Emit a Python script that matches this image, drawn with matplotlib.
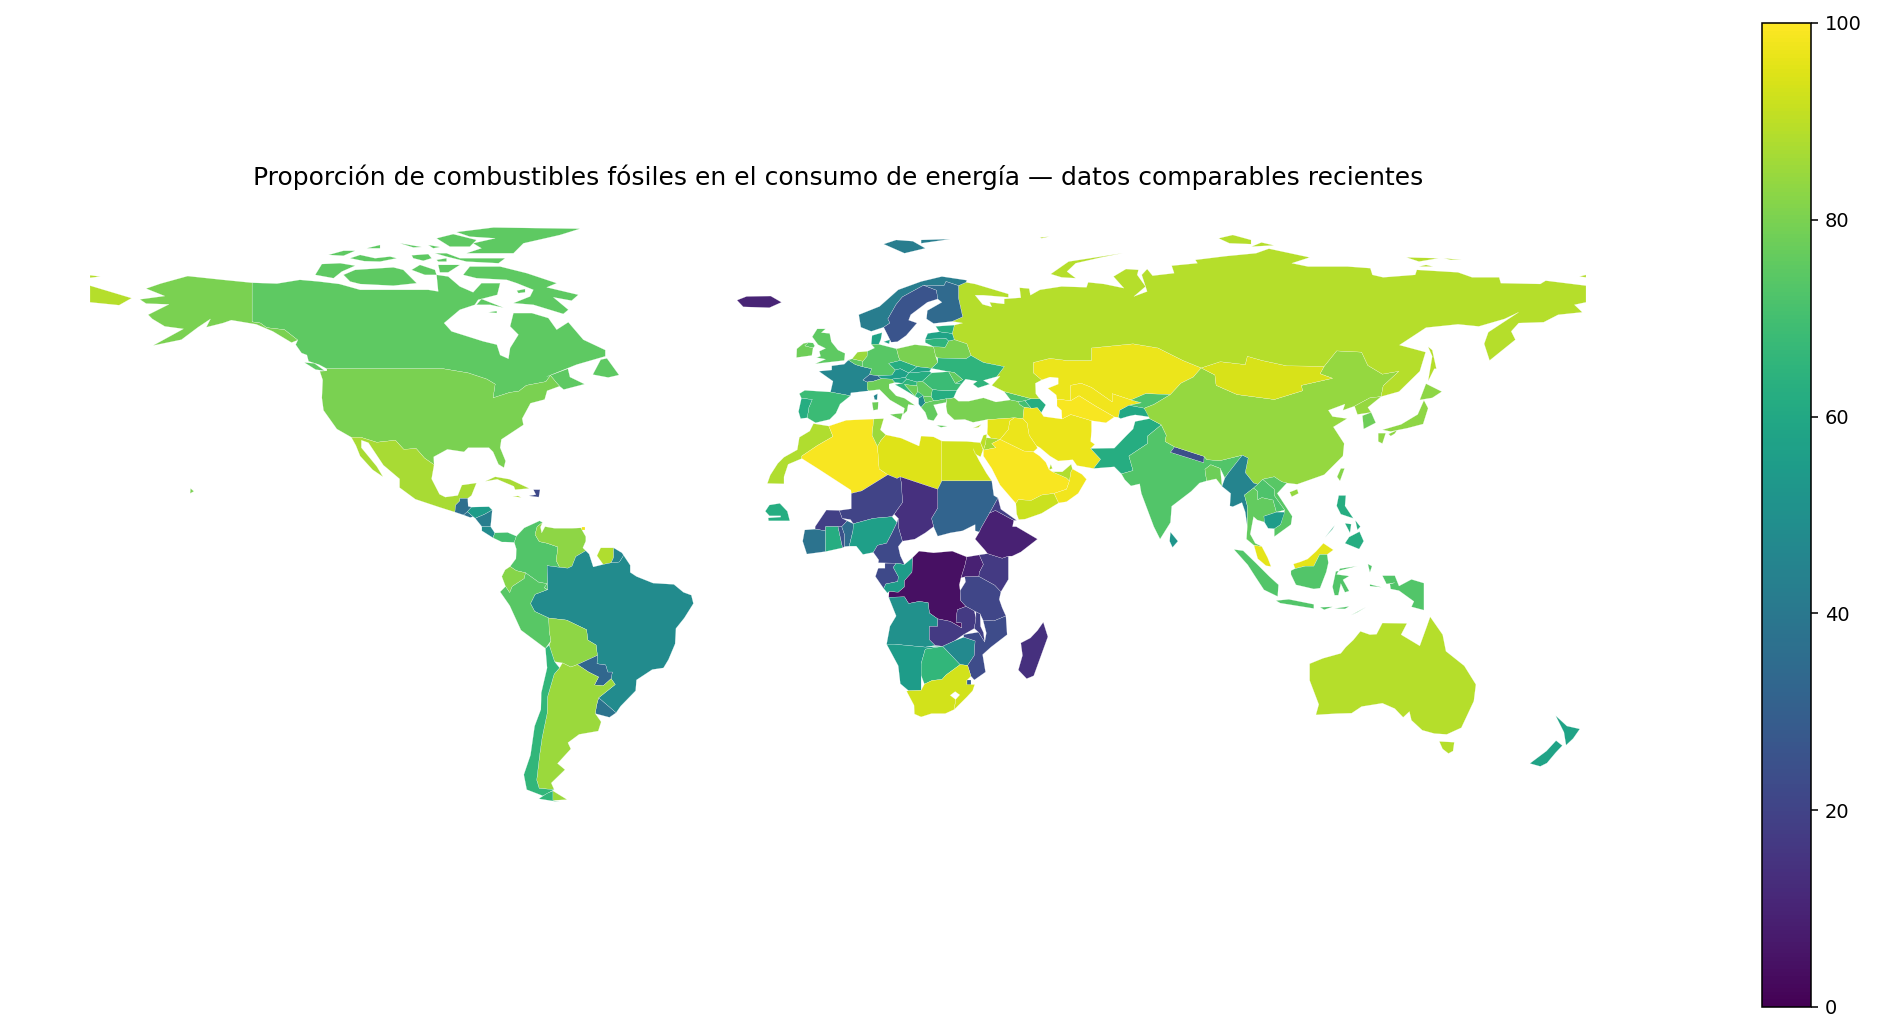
import matplotlib
matplotlib.use("Agg")
import matplotlib.pyplot as plt
from matplotlib.collections import PolyCollection

# Outlines are rough lon/lat traces.
# North America
canada = [(-141,69.7),(-135,69.5),(-129.5,70.4),(-125,70),(-120,69.4),(-115,68),(-108,68),(-101.4,68),(-98.6,68),(-96.2,67.6),(-96.6,71.6),(-93.8,71.2),(-91,68.8),(-87.8,67.4),(-85.8,69.6),(-81.3,69.6),(-82,66.8),(-86.6,65.6),(-87.4,64.4),(-91,63.2),(-94.8,60),(-93,58),(-85.4,55.6),(-82.1,54.8),(-81.3,52.3),(-79.3,51.4),(-78.9,54),(-76.9,57.2),(-78.9,59.2),(-78.1,62.4),(-73.7,62.4),(-69.7,61.2),(-67.7,58.4),(-64.9,60.2),(-61.3,56),(-56,53.5),(-56,52),(-62.9,50),(-70.1,47.1),(-65,49),(-64.5,47),(-61,45.3),(-66,44),(-67,44.8),(-67.8,45.7),(-69.2,47.4),(-70.3,45.9),(-75,45),(-76.8,43.6),(-79,43.3),(-83,42),(-82.5,45.3),(-84.5,46.5),(-89,48),(-95,49),(-123,49),(-124.9,50),(-127.4,50.8),(-127.8,52.3),(-129.1,52.8),(-130.5,54.8),(-130,55.9),(-133.2,58.4),(-137.5,58.9),(-139,60),(-141,60.3)]
vancouver = [(-123.5,48.5),(-125.7,48.8),(-128.4,50.5),(-126,50.3)]
newfoundland = [(-59,47.6),(-55.3,46.9),(-52.7,47.5),(-55.6,51.5),(-57.1,51.2)]
baffin = [(-90.2,71.6),(-88.6,73.6),(-81.3,73.6),(-74.9,72),(-67.7,69.6),(-70.1,68.6),(-62.5,66.8),(-64.1,65.4),(-68.5,66.2),(-64.9,63.2),(-66.1,62.2),(-73.3,64.4),(-78.1,64.8),(-74.1,66.4),(-73.3,68),(-77.3,69.6),(-79.7,70.4),(-87,70.8)]
victoria_is = [(-119,71.6),(-116.2,72.8),(-107,73.4),(-104.6,72.8),(-101.4,69.6),(-107,69),(-115,69.4),(-117.4,70)]
banks_is = [(-125.8,71.6),(-124.2,74.2),(-119.8,74.4),(-116.2,73.8),(-119.4,72.4),(-121.4,70.8)]
melville_is = [(-117.4,75.6),(-115,76.4),(-111.4,75.6),(-107.8,76),(-106.2,75.6),(-110.2,74.8),(-114,74.9)]
patrick_is = [(-122.6,76.4),(-119,77.4),(-116.2,77.4),(-119,76.2)]
mackenzie_is = [(-113.4,78),(-110.2,78.8),(-110.2,78)]
ellef_is = [(-105.4,79.2),(-100.2,78.3),(-102.2,78.2)]
meighen_is = [(-98.6,78.8),(-95.8,78.3),(-97.4,78)]
bathurst_is = [(-102.6,76.3),(-98.6,76.6),(-97.8,75.6),(-99.8,75),(-102.2,75.6)]
pow_is = [(-102.6,72.8),(-100.6,74),(-97,72.8),(-96.6,71.6),(-99.4,71.6)]
somerset_is = [(-96.2,74),(-91,74),(-93.8,72.2),(-95.8,72.2)]
devon_is = [(-97,76.8),(-94.2,76.8),(-91,75.6),(-80.1,75.6),(-81.7,74.4),(-89.4,74.8),(-94.2,76)]
cornwallis_is = [(-96.6,75.2),(-94.2,75.6),(-94.2,74.8),(-96.2,74.8)]
axel_is = [(-96.6,80.4),(-92.6,81.4),(-87,80),(-88.6,78.4),(-93.4,78.4)]
ellesmere = [(-91.8,81.9),(-82.9,83),(-62.1,82.7),(-66.9,81.2),(-75.7,79.2),(-78.1,76.8),(-89.4,76.8),(-85.8,78),(-87.8,79.2),(-82.5,80.4),(-88.6,80.8)]
southampton_is = [(-87,64.4),(-85.8,65.8),(-80.5,63.7),(-83.7,64.4)]
coats_is = [(-84.1,62.6),(-82.1,62.9),(-82.1,62.4)]
charles_is = [(-77.3,67.8),(-75.3,68.2),(-75.3,67.4),(-76.9,67.2)]
usa_lower = [(-123,49),(-95,49),(-89,48),(-84.5,46.5),(-82.5,45.3),(-83,42),(-79,43.3),(-76.8,43.6),(-75,45),(-70.3,45.9),(-69.2,47.4),(-67.8,45.7),(-67,44.8),(-70,43.7),(-70.6,41.6),(-74,40.7),(-76,37),(-75.7,35.5),(-81,32),(-81.3,30),(-80,26.8),(-80.4,25.2),(-81.7,26),(-83,29),(-84,30),(-89,30),(-90,29),(-94,29.6),(-97.3,27.8),(-97.2,25.9),(-99.5,27.5),(-101.5,29.8),(-104.5,29.6),(-106.5,31.8),(-111,31.3),(-114.8,32.5),(-117.1,32.5),(-120.6,34.5),(-123.8,39),(-124.2,42),(-124,46.3),(-124.7,48.4),(-123,48.5)]
alaska = [(-141,69.7),(-141,60.3),(-139,60),(-137.5,58.9),(-133.2,58.4),(-130,55.9),(-131.5,55.3),(-136,58),(-140,59.7),(-146,60.7),(-148,60),(-152,59),(-151,61),(-154,59),(-158,56),(-164.8,54.6),(-157.5,58.6),(-162,59.2),(-165,61),(-166,62),(-161,64.5),(-166.5,64.7),(-168,65.7),(-162,66.5),(-166.5,68.3),(-163,69.5),(-156.5,71.3),(-148,70.4)]
hawaii = [(-155.9,19),(-155,19.5),(-155.8,20.2)]
mexico = [(-117.1,32.5),(-114.8,32.5),(-111,31.3),(-106.5,31.8),(-104.5,29.6),(-101.5,29.8),(-99.5,27.5),(-97.2,25.9),(-97.8,22.5),(-95.9,18.8),(-94.5,18.1),(-91.5,18.5),(-90.5,21),(-87,21.5),(-88.2,18.5),(-89.1,17.8),(-91,17.8),(-91,17.2),(-92,16.2),(-92.2,14.5),(-96,15.7),(-101.7,17.6),(-105.5,20.4),(-105.5,22.5),(-109.4,25.8),(-113,31.2),(-114.7,31.8),(-114.7,30),(-111,25.5),(-109.5,23),(-112,24.7),(-115,28),(-116,30.5)]
guatemala = [(-92.2,14.5),(-92,16.2),(-91,17.2),(-91,17.8),(-89.1,17.8),(-89,15.9),(-88.2,15.7),(-89.2,14.6),(-90.1,13.8)]
el_salvador = [(-90.1,13.8),(-89.2,14.6),(-87.8,13.4),(-88.5,13.2)]
honduras = [(-89.2,14.6),(-88.2,15.7),(-84,15.8),(-83.2,15),(-85,14),(-87.3,13),(-87.8,13.4)]
nicaragua = [(-87.3,13),(-85,14),(-83.2,15),(-83.6,11),(-85.7,11)]
costa_rica = [(-85.7,11),(-83.6,11),(-82.6,9.5),(-83,8.3),(-85.7,10)]
panama = [(-83,8.3),(-82.6,9.5),(-79.5,9.6),(-77.4,8.7),(-77.9,7.2),(-80,7.3),(-80.9,7.3)]
cuba = [(-84.9,21.9),(-82.5,23),(-79,22.4),(-74.3,20.2),(-77.7,19.9),(-78,20.7),(-82,22.4)]
haiti = [(-74.4,18.4),(-72,18.1),(-71.7,19.9),(-73.3,19.9),(-72.7,18.7)]
jamaica = [(-78.3,18.3),(-76.2,18),(-77,18.4)]
trinidad = [(-61.9,10.1),(-60.9,10.1),(-60.9,10.8),(-61.6,10.8)]

# South America
colombia = [(-77.9,7.2),(-77.4,8.7),(-75.5,10.7),(-74.2,11.3),(-71.8,12.4),(-71.1,12),(-72.4,11),(-72.9,9.1),(-71.9,7.4),(-70,7),(-67.4,6.1),(-67.8,2.8),(-67,1.2),(-70,1.6),(-69.8,-4.2),(-70.7,-3.7),(-70,-2.7),(-72,-2.4),(-75.2,-0.1),(-77.4,0.4),(-78.9,1.4),(-77.5,3.3),(-77.4,5.6)]
venezuela = [(-71.1,12),(-71.6,10.9),(-71.3,9.5),(-70.5,11),(-68.2,10.6),(-64,10.6),(-61.9,10.7),(-60.7,8.6),(-60.7,7.5),(-61.4,5.9),(-60.7,5.2),(-63.1,3.8),(-64,1.5),(-65,1),(-67,1.2),(-67.8,2.8),(-67.4,6.1),(-70,7),(-71.9,7.4),(-72.9,9.1),(-72.4,11)]
suriname = [(-58,4),(-57.1,5.9),(-54,5.9),(-54,3.6),(-54.6,2.3),(-56.5,1.9)]
french_guiana = [(-54,5.9),(-52,4.7),(-51.6,4.1),(-52.6,2.5),(-54.6,2.3),(-54,3.6)]
brazil = [(-51.6,4.1),(-50,1.7),(-50,0),(-48.5,-1),(-44.5,-2.6),(-39.5,-2.9),(-37.2,-4.8),(-35.3,-5.5),(-34.8,-7.5),(-37,-11),(-39,-13.5),(-39.2,-17.2),(-40.8,-21),(-42,-23),(-44.7,-23.4),(-48.5,-25.9),(-48.7,-28.5),(-52.3,-32.2),(-53.4,-33.8),(-57.6,-30.2),(-53.6,-27),(-54.6,-25.6),(-54.3,-24),(-55.4,-24),(-55.9,-22.3),(-58,-22),(-57.9,-20),(-58.2,-17.5),(-60.2,-16.3),(-60.5,-13.8),(-65.3,-11.5),(-69.6,-11),(-73,-9.4),(-74,-7.5),(-72.9,-5.3),(-70,-4.2),(-69.8,-4.2),(-70,1.6),(-67,1.2),(-65,1),(-64,1.5),(-63.1,3.8),(-60.7,5.2),(-59.9,4.4),(-58.9,1.3),(-56.5,1.9),(-54.6,2.3),(-52.6,2.5)]
ecuador = [(-75.2,-0.1),(-77.4,0.4),(-78.9,1.4),(-80.1,0.6),(-80.9,-1),(-80,-3.4),(-79,-4.9),(-78.4,-3.4),(-75.5,-1.5)]
peru = [(-80,-3.4),(-81.3,-4.7),(-79,-8),(-76.3,-13.9),(-70.4,-18.3),(-69.1,-16.5),(-69.5,-14),(-69.6,-11),(-73,-9.4),(-74,-7.5),(-72.9,-5.3),(-70,-4.2),(-70.7,-3.7),(-70,-2.7),(-72,-2.4),(-75.2,-0.1),(-75.5,-1.5),(-78.4,-3.4),(-79,-4.9)]
bolivia = [(-69.6,-11),(-65.3,-11.5),(-60.5,-13.8),(-60.2,-16.3),(-58.2,-17.5),(-57.9,-20),(-62.7,-22.2),(-64.3,-22.8),(-66.3,-21.8),(-68.2,-21.5),(-69.5,-17.5),(-69.1,-16.5),(-69.5,-14)]
paraguay = [(-57.9,-20),(-58,-22),(-55.9,-22.3),(-55.4,-24),(-54.3,-24),(-54.6,-25.6),(-56.5,-27.3),(-58.6,-27.1),(-57.6,-25.2),(-60,-24),(-62.7,-22.2)]
uruguay = [(-57.6,-30.2),(-53.4,-33.8),(-55,-34.9),(-58.4,-34),(-58.1,-32)]
argentina = [(-66.3,-21.8),(-64.3,-22.8),(-62.7,-22.2),(-60,-24),(-57.6,-25.2),(-58.6,-27.1),(-56.5,-27.3),(-54.6,-25.6),(-53.6,-27),(-57.6,-30.2),(-58.1,-32),(-58.4,-34),(-57,-36),(-57.7,-38.2),(-62.3,-39),(-65,-41),(-64.3,-42.5),(-67.5,-46),(-65.7,-47.5),(-69,-50.7),(-68.3,-52.3),(-71.9,-52),(-72.5,-50),(-71.8,-44),(-71.2,-39.8),(-70,-34),(-69.9,-30),(-68.3,-24.5),(-67,-23)]
arg_fuego = [(-68.6,-52.6),(-65.2,-54.7),(-68.6,-54.9)]
chile = [(-70.4,-18.3),(-69.5,-17.5),(-68.2,-21.5),(-67,-23),(-68.3,-24.5),(-69.9,-30),(-70,-34),(-71.2,-39.8),(-71.8,-44),(-72.5,-50),(-71.9,-52),(-68.3,-52.3),(-71,-53.8),(-74.9,-52.3),(-75.6,-48.7),(-74,-44),(-73,-37),(-71.5,-33),(-71.4,-29),(-70,-23)]
chile_fuego = [(-68.6,-52.6),(-68.6,-54.9),(-67,-55.3),(-72,-54.5),(-70,-53.2)]

# Africa
morocco = [(-5.9,35.8),(-2.2,35.2),(-1.2,32.7),(-5,30.5),(-8.7,28),(-8.7,27.4),(-12,26),(-13,23),(-13,21.3),(-17,21.4),(-16.3,23.4),(-14.5,26.2),(-13,27.7),(-9.8,29.5),(-9.3,32.5),(-6.8,34)]
algeria = [(-2.2,35.2),(2,36.6),(8.6,36.9),(8.2,33),(9.5,30.3),(9.8,26.5),(9.9,24.9),(12,23.5),(5.7,19.6),(3.2,19),(3.1,19.8),(-4.9,25),(-8.7,27.4),(-8.7,28),(-5,30.5),(-1.2,32.7)]
tunisia = [(8.6,36.9),(11,37),(10.2,34.3),(11.5,33.1),(10.3,31.7),(9.5,30.3),(8.2,33)]
libya = [(11.5,33.1),(15.2,32.3),(19.5,30.4),(20,32.8),(23,32.6),(25,31.6),(25,22),(24,20),(15,23),(14.2,22.6),(12,23.5),(9.9,24.9),(9.8,26.5),(9.5,30.3),(10.3,31.7)]
egypt = [(25,31.6),(31,31.5),(34.3,31.2),(34.9,29.5),(34.3,27.8),(33,28.5),(32.5,29.8),(33.9,27),(35.7,23.9),(37,22),(25,22)]
sudan = [(24,20),(25,22),(37,22),(37.5,18.5),(38.5,17.9),(36.5,14.3),(34.5,10.8),(34,9.7),(33,10),(33,11.5),(30,10),(27,9.5),(24,8.7),(23,11),(22.5,13),(24,15.5)]
chad = [(15,23),(24,20),(24,15.5),(22.5,13),(23,11),(21,9.5),(18.5,8),(15.5,7.5),(14.5,11),(14.5,13),(13.5,14),(15.5,16.8),(15.3,21)]
niger = [(12,23.5),(14.2,22.6),(15,23),(15.3,21),(15.5,16.8),(13.5,14),(13,13.4),(8.5,13),(3.7,11.7),(3,12.7),(1,13),(0.3,14.9),(3.2,15.3),(3.2,19),(5.7,19.6)]
burkina = [(-5.5,10.4),(-5.5,11),(-2.8,15),(0.3,14.9),(1,13),(2.2,12.4),(0.9,11),(0,11),(-3,11),(-3,10)]
senegal = [(-17.5,14.7),(-16.5,16.2),(-14,16.6),(-12.2,14.7),(-11.6,12.4),(-16.7,12.4),(-16.8,13.1),(-13.8,13.3),(-13.8,13.6),(-16.5,13.6)]
ivory_coast = [(-7.5,4.4),(-3,5),(-3,10),(-5.5,10.4),(-8,10.2),(-8.5,7.5)]
ghana = [(-3,5),(1.1,5.9),(0,11),(-3,11),(-3,10)]
togo = [(1.1,5.9),(1.6,6.2),(1.6,9),(0.9,11),(0,11)]
benin = [(1.6,6.2),(2.7,6.3),(3.6,10),(3.7,11.7),(2.2,12.4),(0.9,11),(1.6,9)]
nigeria = [(2.7,6.3),(4.4,6.3),(6,4.3),(8.5,4.8),(9.5,6.5),(11.7,7),(13,9.5),(14.2,12),(13,13.4),(8.5,13),(3.7,11.7),(3.6,10)]
cameroon = [(8.5,4.8),(9.8,3),(9.7,2.3),(14,2.2),(16,1.9),(15,4),(14.5,6.2),(15.5,7.5),(14.5,11),(14.5,13),(14.2,12),(13,9.5),(11.7,7),(9.5,6.5)]
gabon = [(9.7,1),(11.3,1),(11.3,2.2),(14,2.2),(13.3,1.2),(14.5,-1),(14.4,-2.2),(11.5,-2.8),(11,-3.9),(9,-1),(9.5,0.5)]
congo = [(11,-3.9),(11.5,-2.8),(14.4,-2.2),(14.5,-1),(13.3,1.2),(14,2.2),(16,1.9),(18,3.6),(17.8,0),(16,-2),(16,-3.5),(14.5,-4.8),(12.3,-4.6),(11.9,-5)]
dr_congo = [(12.2,-6),(12.3,-4.6),(14.5,-4.8),(16,-3.5),(16,-2),(17.8,0),(18,3.6),(19.5,5.1),(23,4.7),(27.5,5.1),(31,3.7),(30.5,1.5),(29.6,-1.3),(29.2,-3),(29.4,-4.4),(29.5,-6.8),(30.8,-8.2),(28.7,-9),(28.4,-12),(29.8,-12.2),(29.8,-13.4),(27,-11.8),(24,-11.2),(22,-9.8),(21.7,-7.3),(19.5,-7),(17,-7.5),(16,-5.9)]
uganda = [(31,3.7),(34,4.2),(35,1.9),(34,0),(33.9,-1),(30.5,-1.1),(29.6,-1.3),(30.5,1.5)]
kenya = [(34,4.2),(36,4.5),(39.5,3.4),(41,3.9),(41,-1.7),(39.2,-4.7),(37.7,-3.1),(33.9,-1),(34,0),(35,1.9)]
tanzania = [(30.5,-1.1),(33.9,-1),(37.7,-3.1),(39.2,-4.7),(38.8,-6.5),(39.5,-8.5),(40.4,-10.5),(37.5,-11.7),(34.9,-11.5),(34.2,-10),(32.8,-9.3),(30.8,-8.2),(29.5,-6.8),(29.4,-4.4),(30.7,-2.3)]
ethiopia = [(36.5,14.3),(37.9,14.9),(42.3,12.5),(42,11),(42.9,11),(48,8),(44,4.9),(41.9,3.9),(41,3.9),(39.5,3.4),(36,4.5),(35.3,5.4),(33,8),(34,9.7),(34.5,10.8)]
eritrea = [(36.5,14.3),(38.5,17.9),(39.2,15.2),(43,12.5),(42.3,12.5),(37.9,14.9)]
angola = [(12.2,-6),(16,-5.9),(17,-7.5),(19.5,-7),(21.7,-7.3),(22,-9.8),(24,-11.2),(24,-13),(22,-13),(22,-16.2),(23.4,-17.6),(21,-18),(13.5,-17.3),(11.7,-17.3),(12.5,-13),(14,-10.5),(13,-8)]
namibia = [(11.7,-17.3),(13.5,-17.3),(21,-18),(25.2,-17.8),(21,-18.5),(20,-22),(20,-28.4),(17,-28.5),(15,-26.8),(14.5,-22.5)]
botswana = [(20,-22),(21,-18.5),(25.2,-17.8),(29.4,-22.2),(26,-24.7),(25,-25.8),(22.7,-26),(20.8,-26.9),(20,-24.8)]
zambia = [(22,-13),(24,-13),(24,-11.2),(27,-11.8),(29.8,-13.4),(29.8,-12.2),(28.4,-12),(28.7,-9),(30.8,-8.2),(32.8,-9.3),(33.2,-11),(32.8,-13.5),(30.2,-15),(28,-16.5),(25.2,-17.8),(23.4,-17.6),(22,-16.2)]
zimbabwe = [(25.2,-17.8),(28,-16.5),(30.3,-15.6),(33,-16.5),(32.8,-20),(31.2,-22.4),(29.4,-22.2)]
malawi = [(33.2,-9.5),(34.2,-10),(34.3,-13),(35,-14.5),(35.3,-16.8),(33.8,-14.4),(32.8,-13.5),(33.2,-11)]
mozambique = [(34.9,-11.5),(37.5,-11.7),(40.4,-10.5),(40.7,-15),(36.8,-18),(34.8,-19.8),(35.5,-24),(32.8,-25.9),(32,-25),(31.2,-22.4),(32.8,-20),(33,-16.5),(30.3,-15.6),(30.2,-15),(33.8,-14.4),(35.3,-16.8),(35.7,-14.6)]
eswatini = [(31,-26),(32,-26),(32,-27),(31,-27)]
south_africa = [(16.5,-28.6),(17,-28.5),(20,-28.4),(20.8,-26.9),(22.7,-26),(25,-25.8),(26,-24.7),(29.4,-22.2),(31.2,-22.4),(32,-25),(31,-26),(31,-27),(32,-27),(32.9,-27),(32.4,-28.5),(31,-30),(28,-33),(28.3,-30.6),(29.3,-29.5),(28.2,-28.7),(27,-29.6),(28.3,-30.6),(28,-33),(25.8,-34),(22.5,-34),(20,-34.8),(18.4,-34.1),(18.3,-32)]
madagascar = [(49.4,-12),(50.5,-15.5),(47.1,-24.9),(45.4,-25.6),(43.4,-23.5),(44.4,-20),(44,-17),(46.3,-15.8),(48,-14)]

# Middle East and central / south Asia
turkey = [(26,40),(26.2,41.8),(28,42),(29,41.2),(31.5,41.2),(35,42),(38,41),(41.5,41.5),(43.5,41.1),(43.6,40.5),(44.8,39.7),(44.5,37),(42.4,37.2),(36.7,36.8),(36,36.8),(32.5,36.1),(30.5,36.8),(28,36.7),(26.3,38.3)]
georgia = [(40,43.5),(46.5,41.8),(45,41.3),(43.5,41.1),(41.5,41.5)]
armenia = [(43.6,40.5),(43.5,41.1),(45,41.3),(46.5,39.5),(44.8,39.7)]
azerbaijan = [(46.5,41.8),(48.5,41.8),(50,40.3),(48.9,38.4),(48,39.6),(46.5,39.5),(45,41.3)]
iran = [(44.8,39.7),(46.5,39.5),(48,39.6),(48.9,38.4),(49.5,37.5),(53.9,36.9),(56,38),(61,36.5),(61,34),(60.8,31.5),(61.8,30.8),(60.8,29.8),(63.2,27.2),(61.5,25),(57.5,25.7),(56.5,27.1),(53,26.8),(51,28),(48.6,30),(47.7,30.5),(46,33),(45.5,35.9),(44.5,37)]
iraq = [(42.4,37.2),(44.5,37),(45.5,35.9),(46,33),(47.7,30.5),(48,29.9),(47,29),(44.7,29.2),(39,32),(41,34.4),(41.3,36.4)]
syria = [(36,36.8),(36.7,36.8),(42.4,37.2),(41.3,36.4),(41,34.4),(39,32),(36.8,32.3),(35.9,33.3),(36,35)]
jordan = [(35.5,32.4),(36.8,32.3),(39,32),(37,31),(38,30),(35,29.4),(35.5,31)]
israel = [(34.3,31.2),(35,33),(35.8,33.2),(35.5,31),(35,29.5)]
saudi = [(35,29.4),(38,30),(37,31),(39,32),(44.7,29.2),(47,29),(48.5,28),(50,26.5),(50.8,24.7),(51.6,24.2),(55,22.7),(55.7,22),(55,20),(52,19),(49,18.6),(46.5,17.3),(43.4,17.5),(42.8,16.6),(39,21),(37,25),(35,28)]
yemen = [(42.8,16.6),(43.4,17.5),(46.5,17.3),(49,18.6),(52,19),(53.1,16.7),(49,14.2),(45,12.8),(43.5,12.7),(43,14)]
oman = [(52,19),(55,20),(55.7,22),(56,24.1),(56.4,24.9),(58.7,23.6),(59.8,22.4),(57.8,19),(55,17),(53.1,16.7)]
uae = [(51.6,24.2),(54,24.2),(56.1,26),(56.4,24.9),(56,24.1),(55.7,22),(55,22.7)]
qatar = [(50.8,24.7),(51.2,26),(51.6,25)]
kazakhstan = [(47,50.5),(51,51.5),(55,51),(61,51),(61,54),(71,55),(77,54),(83,51),(87.4,49.2),(85.5,47),(82.5,45.5),(80,42.8),(74,43),(70.5,41.5),(66,43),(66,41),(61,44.5),(58.5,45.5),(56,45),(56,41.3),(52.7,41.7),(52.5,42.7),(50.5,44.3),(51,44.5),(53,45.3),(53,46.8),(51,47),(49,46.3),(47,48)]
uzbekistan = [(56,41.3),(56,45),(58.5,45.5),(61,44.5),(66,41),(66,43),(70.5,41.5),(73,40.8),(70,40.2),(67.8,39),(67.5,37.3),(66.5,37.4),(62,40),(58,42.5)]
turkmenistan = [(52.7,41.7),(56,41.3),(58,42.5),(62,40),(66.5,37.4),(64.5,36),(61,36.5),(56,38),(53.9,36.9),(53.8,39),(52.7,40)]
kyrgyzstan = [(70.5,41.5),(74,43),(80,42.8),(76,40.4),(73.7,39.5),(70,40.2),(73,40.8)]
tajikistan = [(67.8,39),(70,40.2),(73.7,39.5),(75,37.4),(71.5,37.9),(70,37.6),(68,37),(67.5,37.3)]
pakistan = [(61.5,25),(63.2,27.2),(60.8,29.8),(66.5,29.9),(69.5,33),(71,34.5),(71.5,36.3),(75,37),(77.8,35.5),(74.5,32.8),(74.5,31),(70,28),(71,24.5),(68.2,23.7),(66.5,25.4)]
india = [(68.2,23.7),(71,24.5),(70,28),(74.5,31),(74.5,32.8),(77.8,35.5),(79,33),(78.7,31.5),(81,30.2),(80,28.9),(88,26.4),(88.1,27.9),(88.8,27.1),(92,26.9),(97.3,28.2),(94,24),(93.1,22.7),(92,25),(89.7,25.9),(88.3,24.8),(88.7,22),(87,21.5),(85,19.5),(80.3,15.9),(80,12),(77.5,8),(76,11),(73,19),(72.6,21.3),(70.5,20.8),(69,22.3)]
nepal = [(80,28.9),(81,30.2),(88.1,27.9),(88,26.4)]
bangladesh = [(88.3,24.8),(89.7,25.9),(92,25),(92.4,20.7),(91,22.5),(88.7,22)]
sri_lanka = [(80,9.7),(81.8,7.5),(80.5,6),(79.8,7.5)]

# East and south-east Asia
china = [(73.7,39.5),(76,40.4),(80,42.8),(82.5,45.5),(85.5,47),(87.4,49.2),(90.7,47.5),(91,45),(96,42.8),(105,41.6),(111.8,43.7),(111.5,45),(119,46.7),(116,47.8),(117,49.6),(120,53.3),(126,53),(127.5,49.8),(131,47.7),(135,48.4),(131.2,44.9),(130.7,42.3),(128,42),(124.3,40),(121.5,39),(122,40.5),(118,39),(119,37.5),(122.5,37),(119.2,35),(121.8,31),(121.5,28),(117,23.5),(110.5,21.2),(108,21.5),(106.8,21.8),(105,23),(102.2,22.4),(101,21.2),(100,21.5),(98,24),(98.7,27.5),(97.3,28.2),(92,26.9),(88.8,27.1),(88.1,27.9),(81,30.2),(78.7,31.5),(79,33),(77.8,35.5),(75,37)]
hainan = [(108.7,19.3),(110.5,20),(110.8,19),(109.2,18.2)]
taiwan = [(121,25),(121.9,25),(120.8,22),(120.1,23)]
mongolia = [(87.4,49.2),(92,50.7),(98,50),(98.5,52),(102,51),(108,49.7),(117,49.6),(116,47.8),(119,46.7),(111.5,45),(111.8,43.7),(105,41.6),(96,42.8),(91,45),(90.7,47.5)]
north_korea = [(124.3,40),(128,42),(130.7,42.3),(127.5,39.7),(128.3,38.5),(125,38)]
south_korea = [(126.2,37.7),(128.3,38.5),(129.4,36),(126.5,34.5)]
honshu = [(131,34.3),(135.5,35.6),(139.5,38),(141,41.4),(142,39.5),(140.8,35.7),(137,34.7),(133,33.9)]
hokkaido = [(140,41.5),(141.5,45.4),(145.3,43.5),(143,42)]
kyushu = [(130,33.5),(131.8,33.5),(131,31),(130,31.5)]
shikoku = [(132.5,33.3),(134.5,34.2),(134,33.4),(133,32.8)]
myanmar = [(92.4,20.7),(93.1,22.7),(94,24),(97.3,28.2),(98.7,27.5),(98,24),(100,21.5),(101,21.2),(100,20.3),(97.8,18.6),(98.5,16),(98.5,11),(98,14.5),(97.2,16.8),(95,15.8),(94.3,16),(94.5,19)]
thailand = [(97.8,18.6),(100,20.3),(101,19.5),(101,17.5),(102,18),(104.7,17.4),(105.5,14.5),(102.5,13.5),(102.6,12.1),(100.9,12.6),(100,13.4),(99.2,9.2),(100.4,7),(102,6.2),(100.1,6.5),(98.3,8),(98.5,11),(98.5,16)]
laos = [(100,20.3),(101,21.2),(102.2,22.4),(105,20),(105,18.5),(107.5,15),(105.5,14.5),(104.7,17.4),(102,18),(101,17.5),(101,19.5)]
vietnam = [(102.2,22.4),(105,23),(106.8,21.8),(108,21.5),(105.7,19),(109.3,13.5),(109,11.5),(105,8.6),(105,10.5),(106.5,11.5),(107.5,15),(105,18.5),(105,20)]
cambodia = [(102.6,12.1),(102.5,13.5),(105.5,14.5),(107.5,14.5),(106.5,11.5),(105,10.5),(103.5,10.6)]
malaya = [(100.1,6.5),(102,6.2),(103.4,3.5),(104.2,1.4),(103,1.6),(101,3.3)]
sabah_sarawak = [(109.6,2),(111.2,2.5),(113,3.2),(115,5),(116.8,7),(119.2,5.4),(117.7,4.3),(115.9,4.3),(114.5,1.5),(112.5,1.5),(110,0.9)]
sumatra = [(95.3,5.5),(97.5,5.2),(100.6,2.2),(103.8,-1),(106,-3),(105.8,-5.8),(102.5,-4.2),(100.4,-1),(98.6,1.8)]
java = [(105.4,-6.8),(108.5,-6.5),(114.5,-7.7),(114.5,-8.7),(106.4,-7.4)]
kalimantan = [(109,0.4),(110,0.9),(112.5,1.5),(114.5,1.5),(115.9,4.3),(117.7,4.3),(118,2.3),(117.5,0.1),(116,-3.8),(114.5,-4),(110.2,-3),(109,-0.5)]
sulawesi = [(119.8,0.2),(124.5,1.4),(125,1.5),(120.8,0.9),(120,-0.5),(123,-0.9),(121.5,-1.8),(123,-4.5),(122,-4.8),(121,-2.7),(120.4,-5.5),(119.5,-5.5),(119,-3.5)]
west_papua = [(131,-0.8),(134,-0.8),(135,-3.3),(138,-1.7),(141,-2.6),(141,-9.1),(138,-8.3),(138.6,-7),(135,-4.4),(133,-4),(132.8,-2.8),(134,-2.5),(132,-2.8)]
flores = [(119.5,-8.7),(123,-8.2),(122,-8.8)]
sumbawa = [(116,-8.4),(119,-8.3),(117,-9)]
timor = [(123.5,-10.3),(127,-8.4),(125,-9.6)]
halmahera = [(127.5,2),(128,0),(128.5,1.5)]
seram = [(128,-3.3),(130.8,-3.6),(128,-2.9)]
luzon = [(120.5,18.5),(122.2,18.5),(122,16),(124,13),(121,14),(120,16)]
mindanao = [(122,7),(125.4,5.6),(126.5,7.5),(125.5,9.8),(123,8.5)]
palawan = [(117.2,8.4),(119.5,11.3),(119,10.4)]
panay_negros = [(122,11.8),(123.2,9.5),(123.5,11.6)]
samar_leyte = [(124.5,12.5),(125.7,11),(125,10.2)]
australia = [(113.5,-26),(113.5,-22),(116.7,-20.7),(121,-19.5),(122.2,-18),(124,-16.3),(125.7,-14.2),(128,-15),(129.6,-14.9),(131,-12.2),(136.9,-12.3),(135.5,-15),(140,-17.7),(141.7,-13),(142.5,-10.7),(145.5,-15),(146.3,-19),(150.7,-22.5),(153.5,-27),(153,-31),(150,-37.4),(146.5,-39),(143.5,-38.8),(140.6,-38),(138,-35.6),(137.5,-33.5),(136,-34.9),(134,-32.8),(131,-31.5),(126,-32.3),(123.6,-33.9),(119.9,-34),(115,-34.3),(115.7,-31.8)]
tasmania = [(144.7,-40.7),(148.3,-40.9),(148,-43),(146.9,-43.6),(145.5,-42.5)]
nz_north = [(172.7,-34.5),(175.4,-37),(178.5,-37.7),(176.9,-40),(175.2,-41.6),(174.7,-38.5)]
nz_south = [(172.8,-40.5),(174.3,-41.7),(172.7,-43.4),(170.6,-45.9),(169,-46.7),(166.5,-46),(170.5,-43)]

# Russia
russia = [(30.8,69.8),(33,69.4),(41,67),(41,66.2),(35,66.7),(33,66.7),(34.8,64.5),(37,63.9),(36.5,65),(40,64.6),(40,65.8),(44,66.1),(43.7,68.5),(46,68.3),(46.3,66.7),(48.6,68),(53.8,68.8),(59.8,68.6),(60.2,69.8),(64,69.4),(68.8,68.4),(66.3,71.2),(69.3,73),(72.3,72.8),(72,71.6),(74,68.8),(71.2,66.4),(74.4,67.6),(73.1,71.6),(74.4,73),(75.7,71.4),(80.9,72),(80.3,73.8),(86.5,74.4),(86,75.2),(93.3,76.1),(100.6,76.8),(103.7,77.9),(113.5,75.8),(109.2,74.4),(113.1,73.6),(122.6,73.6),(128.1,73.2),(128.6,71.6),(131.2,71),(138.9,71.6),(139.3,72.8),(149.2,72.2),(152.6,71),(159.1,71),(159.5,69.6),(169,69.4),(170.3,70.2),(180,69),(180,65),(177.2,64.4),(179.1,62.6),(173.3,62),(169.8,60.2),(163.8,60),(162,58),(163,56),(156.8,51),(155.5,55),(156.5,57.8),(163.8,62.6),(160.4,61),(154.2,59.2),(149.2,59.7),(141.5,58.9),(135.1,54.7),(141.4,53),(140,48.4),(135,43.5),(130.7,42.3),(131.2,44.9),(135,48.4),(131,47.7),(127.5,49.8),(126,53),(120,53.3),(117,49.6),(108,49.7),(102,51),(98.5,52),(98,50),(92,50.7),(87.4,49.2),(83,51),(77,54),(71,55),(61,54),(61,51),(55,51),(51,51.5),(47,50.5),(47,48),(49,46.3),(47.5,45.5),(47.6,43),(48.5,41.8),(46.5,41.8),(40,43.5),(37,45),(39,47.2),(38.2,47.1),(40,49.5),(35,50.5),(32,52.2),(31,55),(28,56),(27.5,57.5),(28,59.5),(30,60),(27.5,60.4),(30,61.5),(29,66),(29,69)]
chukotka = [(-180,69),(-175,67.5),(-170,66),(-173,64.3),(-180,65)]
wrangel = [(-180,71.5),(-177.5,71.2),(-180,70.9)]
wrangel_east = [(178.4,71.2),(180,71.6),(180,71)]
novaya_zemlya = [(51.2,71.8),(55.5,74.8),(68.4,76.8),(63.3,75.8),(57.2,74.4),(55.1,72.4),(57.2,70.8),(53.8,71)]
severnaya = [(91.6,80.4),(95,81.2),(99.4,80),(99.4,79),(94.2,79.2)]
bolshevik_is = [(99.5,78.4),(101.9,79.4),(104.9,78.7)]
kotelny_is = [(136.8,75.8),(144.5,75.6),(139.8,74.8)]
new_siberia_is = [(145.8,75.6),(150,75.2),(147.5,75.2)]
bolshoy_is = [(139.8,73.6),(143.2,73.6),(141.5,74)]
sakhalin = [(142,54.3),(143,52),(142,46),(143.5,49),(144,49),(143,53.5)]
franz_josef = [(48.6,80.6),(50.8,80.8),(49,80.4)]

# Europe
iceland = [(-24.3,65.5),(-22,66.4),(-16.2,66.5),(-13.6,65),(-16.5,63.7),(-22.8,63.9)]
norway = [(5,62),(10,64),(14.5,68),(20,70),(25,71.2),(31,70.3),(30.8,69.8),(29,69),(26,70),(25.5,69),(20.6,69.1),(15.5,66.3),(14,64.5),(12,61),(12.5,60),(11,59),(8,58),(5.5,59)]
svalbard = [(11,79),(16,76.8),(21,78),(18,79.7),(14,80)]
nordaustlandet = [(20,80),(27,80.2),(20,79.2)]
sweden = [(11,59),(12.5,60),(12,61),(14,64.5),(15.5,66.3),(20.6,69.1),(23.7,67.9),(24,65.8),(21.5,65),(17.5,62),(17,60.7),(19,60),(16.4,57),(14.3,55.5),(12.8,55.4)]
finland = [(20.6,69.1),(25.5,69),(26,70),(29,69),(29,66),(30,61.5),(27.5,60.4),(23,59.9),(21.3,61),(21.5,63),(25,65),(24,65.8),(23.7,67.9)]
jutland = [(8,54.9),(8.2,57),(10.6,57.7),(10.3,56),(9.8,54.9)]
sjaelland = [(11,55.5),(12.5,56),(12.3,55)]
britain = [(-5.5,50.2),(1.5,51),(1.7,52.7),(0,53.5),(-1.6,55.5),(-2,57.5),(-4,57.7),(-3,58.6),(-5,58.6),(-6.2,56.7),(-4.8,54.8),(-3,53.9),(-4.5,53.2),(-4.2,52),(-5.2,51.7),(-3,51.3)]
n_ireland = [(-7.2,55.3),(-6,55.2),(-5.6,54.5),(-6,54),(-8,54.5)]
ireland = [(-10,51.7),(-6.3,52.2),(-6,54),(-8,54.5),(-7.2,55.3),(-8.3,55.1),(-9.9,53.8)]
france = [(2.5,51.1),(4.2,50),(5.9,49.5),(8.1,49),(7.6,47.6),(6,46.3),(7,45.8),(7,44.2),(7.4,43.7),(3.1,43.2),(3,42.5),(-1.8,43.4),(-1.2,46),(-4.6,48.4),(-1.5,48.7),(-1.5,49.7),(1.5,50.1)]
corsica = [(8.6,42.5),(9.5,43),(9.4,41.5),(8.8,41.6)]
spain = [(-9.3,43),(-8,43.8),(-1.8,43.4),(3,42.5),(0.5,40.5),(-0.5,38.3),(-2,36.8),(-5.4,36),(-7.4,37.2),(-7,39.7),(-6.2,41.6),(-8.8,41.9)]
portugal = [(-8.8,41.9),(-6.2,41.6),(-7,39.7),(-7.4,37.2),(-9,37),(-9.5,38.7)]
belgium = [(2.5,51.1),(3.4,51.4),(6,50.8),(5.9,49.5),(4.2,50)]
netherlands = [(3.4,51.4),(4.7,53),(7.1,53.2),(7,52),(6,50.8)]
germany = [(6,50.8),(7,52),(7.1,53.2),(8.8,54),(8,54.9),(9.8,54.9),(14.1,53.8),(14.6,51.8),(15,51),(12.2,50.3),(13.8,48.7),(13,47.5),(9.6,47.3),(7.6,47.6),(8.1,49),(5.9,49.5)]
poland = [(14.1,53.8),(18.5,54.8),(23,54.3),(23.5,52),(24,50.5),(22.5,49.1),(19,49.5),(15,51),(14.6,51.8)]
belarus = [(23,54.3),(25.8,54.2),(26.6,55.7),(28,56),(31,55),(32,52.2),(30.8,51.4),(24,51.6),(23.5,52)]
lithuania = [(21,55.3),(21,56.1),(26,56.3),(26.6,55.7),(25.8,54.2),(23,54.3)]
latvia = [(21,56.1),(21.6,57.5),(24.4,57.9),(27.5,57.5),(28,56),(26.6,55.7),(26,56.3)]
estonia = [(23.5,59.2),(28,59.5),(27.5,57.5),(24.4,57.9)]
ukraine = [(24,51.6),(30.8,51.4),(32,52.2),(35,50.5),(40,49.5),(38.2,47.1),(35,46.2),(36.5,45.3),(33.7,44.4),(32.5,45.3),(33.5,46),(30.7,46.5),(29.7,45.3),(28.2,45.5),(30,46.4),(28,48.1),(26.6,48.3),(22.5,49.1),(24,50.5)]
moldova = [(26.6,48.3),(28,48.1),(30,46.4),(28.2,45.5)]
romania = [(22.5,48),(26.6,48.3),(28.2,45.5),(29.7,45.3),(28.6,43.8),(25.5,43.7),(22.7,44),(20.3,46)]
bulgaria = [(22.7,44),(25.5,43.7),(28.6,43.8),(27.8,42),(26.2,41.8),(24,41.4),(23,41.3),(22.4,42.3)]
hungary = [(16.2,46.9),(17,48),(22,48.4),(22.5,48),(20.3,46),(19,45.8),(16.5,46.5)]
slovakia = [(17,48),(19,49.5),(22.5,49.1),(22,48.4)]
czechia = [(12.2,50.3),(15,51),(19,49.5),(17,48),(15,49),(13.8,48.7)]
austria = [(9.6,47.3),(13,47.5),(13.8,48.7),(15,49),(17,48),(16.2,46.9),(13,46.5),(10.4,46.6)]
switzerland = [(6,46.3),(7.6,47.6),(9.6,47.3),(10.4,46.6),(8.5,46),(7,45.8)]
italy = [(7,45.8),(8.5,46),(10.4,46.6),(13,46.5),(13.7,45.7),(12.3,45.3),(12.3,44.3),(14,42.5),(16,41.9),(18.5,40.2),(16.9,40.4),(16.6,38.8),(15.7,38),(16,39.5),(12.5,41.5),(10,44),(7.4,43.7),(7,44.2)]
sicily = [(12.5,38),(15.6,38.3),(15.1,36.7)]
sardinia = [(8.2,40.9),(9.7,41),(9.6,39.2),(8.5,39)]
slovenia = [(13.7,45.7),(13,46.5),(16.2,46.9),(16.5,46.5),(15.5,45.5)]
croatia = [(13.7,45.2),(15.5,45.5),(16.5,46.5),(19,45.8),(19,44.9),(16,45.2),(18.5,42.4),(15,44.5)]
bosnia = [(16,45.2),(19,44.9),(19.2,43.5),(18.5,42.4)]
serbia = [(19,45.8),(20.3,46),(22.7,44),(22.4,42.3),(20.5,42.3),(19.2,43.5),(19,44.9)]
montenegro = [(18.5,42.4),(19.2,43.5),(20.5,42.6),(19.4,41.9)]
albania = [(19.4,41.9),(20.5,42.6),(21,40.8),(20,39.7),(19.4,40.5)]
macedonia = [(20.5,42.3),(22.4,42.3),(23,41.3),(21,40.8)]
greece = [(20,39.7),(21,40.8),(23,41.3),(24,41.4),(26.2,41.8),(26,40.9),(23,40.3),(24,38),(23,36.5),(21.6,36.8),(21,38.5)]
crete = [(23.7,35.4),(26.3,35.2),(24.8,34.9)]
cyprus = [(32.5,34.7),(34.5,35.6),(33.8,34.9)]

# share of fossil fuels in energy use, % (estimated from the colours)
fossil_share = {
    "Canada": 75, "USA": 80, "Mexico": 87, "Guatemala": 36, "El Salvador": 38, "Honduras": 55,
    "Nicaragua": 42, "Costa Rica": 48, "Panama": 70, "Cuba": 87, "Haiti": 22, "Jamaica": 88,
    "Trinidad": 98, "Colombia": 73, "Venezuela": 83, "Suriname": 88, "Brazil": 48, "Ecuador": 82,
    "Peru": 74, "Bolivia": 83, "Paraguay": 33, "Uruguay": 38, "Argentina": 85, "Chile": 66,
    "Morocco": 88, "Algeria": 99, "Tunisia": 85, "Libya": 95, "Egypt": 93, "Sudan": 32, "Chad": 14,
    "Niger": 20, "Burkina Faso": 19, "Senegal": 62, "Ivory Coast": 38, "Ghana": 62, "Togo": 25,
    "Benin": 35, "Nigeria": 56, "Cameroon": 22, "Gabon": 22, "Congo": 55, "DR Congo": 4, "Uganda": 9,
    "Kenya": 17, "Tanzania": 21, "Ethiopia": 9, "Eritrea": 18, "Angola": 50, "Namibia": 55,
    "Botswana": 66, "Zambia": 17, "Zimbabwe": 47, "Malawi": 19, "Mozambique": 23, "Eswatini": 30,
    "South Africa": 93, "Madagascar": 14, "Turkey": 80, "Georgia": 72, "Armenia": 70, "Azerbaijan": 62,
    "Iran": 97, "Iraq": 97, "Syria": 96, "Jordan": 87, "Israel": 90, "Saudi Arabia": 99, "Yemen": 92,
    "Oman": 98, "UAE": 88, "Qatar": 88, "Kazakhstan": 97, "Uzbekistan": 98, "Turkmenistan": 99,
    "Kyrgyzstan": 72, "Tajikistan": 60, "Pakistan": 62, "India": 73, "Nepal": 24, "Bangladesh": 78,
    "Sri Lanka": 52, "China": 84, "Taiwan": 82, "Mongolia": 94, "North Korea": 84, "South Korea": 78,
    "Japan": 83, "Myanmar": 45, "Thailand": 76, "Laos": 72, "Vietnam": 74, "Cambodia": 55,
    "Malaysia": 96, "Indonesia": 73, "Philippines": 62, "Australia": 89, "New Zealand": 58,
    "Russia": 89, "Iceland": 10, "Norway": 42, "Sweden": 26, "Finland": 34, "Denmark": 58, "UK": 75,
    "Ireland": 78, "France": 46, "Spain": 68, "Portugal": 62, "Belgium": 75, "Netherlands": 85,
    "Germany": 74, "Poland": 80, "Belarus": 80, "Lithuania": 65, "Latvia": 58, "Estonia": 62,
    "Ukraine": 65, "Moldova": 76, "Romania": 68, "Bulgaria": 62, "Hungary": 62, "Slovakia": 58,
    "Czechia": 62, "Austria": 57, "Switzerland": 35, "Italy": 78, "Slovenia": 60, "Croatia": 65,
    "Bosnia": 78, "Serbia": 76, "Montenegro": 65, "Albania": 48, "North Macedonia": 76, "Greece": 76,
    "Cyprus": 88,
}

# which outlines belong to which country
country_parts = {
    "Canada": [canada, vancouver, newfoundland, baffin, victoria_is, banks_is, melville_is, patrick_is, mackenzie_is, ellef_is, meighen_is, bathurst_is, pow_is, somerset_is, devon_is, cornwallis_is, axel_is, ellesmere, southampton_is, coats_is, charles_is],
    "USA": [usa_lower, alaska, hawaii], "Mexico": [mexico], "Guatemala": [guatemala], "El Salvador": [el_salvador],
    "Honduras": [honduras], "Nicaragua": [nicaragua], "Costa Rica": [costa_rica], "Panama": [panama], "Cuba": [cuba],
    "Haiti": [haiti], "Jamaica": [jamaica], "Trinidad": [trinidad], "Colombia": [colombia], "Venezuela": [venezuela],
    "Suriname": [suriname], "Brazil": [brazil], "Ecuador": [ecuador], "Peru": [peru], "Bolivia": [bolivia],
    "Paraguay": [paraguay], "Uruguay": [uruguay], "Argentina": [argentina, arg_fuego], "Chile": [chile, chile_fuego],
    "Morocco": [morocco], "Algeria": [algeria], "Tunisia": [tunisia], "Libya": [libya], "Egypt": [egypt], "Sudan": [sudan],
    "Chad": [chad], "Niger": [niger], "Burkina Faso": [burkina], "Senegal": [senegal], "Ivory Coast": [ivory_coast],
    "Ghana": [ghana], "Togo": [togo], "Benin": [benin], "Nigeria": [nigeria], "Cameroon": [cameroon], "Gabon": [gabon],
    "Congo": [congo], "DR Congo": [dr_congo], "Uganda": [uganda], "Kenya": [kenya], "Tanzania": [tanzania],
    "Ethiopia": [ethiopia], "Eritrea": [eritrea], "Angola": [angola], "Namibia": [namibia], "Botswana": [botswana],
    "Zambia": [zambia], "Zimbabwe": [zimbabwe], "Malawi": [malawi], "Mozambique": [mozambique], "Eswatini": [eswatini],
    "South Africa": [south_africa], "Madagascar": [madagascar], "Turkey": [turkey], "Georgia": [georgia], "Armenia": [armenia],
    "Azerbaijan": [azerbaijan], "Iran": [iran], "Iraq": [iraq], "Syria": [syria], "Jordan": [jordan], "Israel": [israel],
    "Saudi Arabia": [saudi], "Yemen": [yemen], "Oman": [oman], "UAE": [uae], "Qatar": [qatar], "Kazakhstan": [kazakhstan],
    "Uzbekistan": [uzbekistan], "Turkmenistan": [turkmenistan], "Kyrgyzstan": [kyrgyzstan], "Tajikistan": [tajikistan],
    "Pakistan": [pakistan], "India": [india], "Nepal": [nepal], "Bangladesh": [bangladesh], "Sri Lanka": [sri_lanka],
    "China": [china, hainan], "Taiwan": [taiwan], "Mongolia": [mongolia], "North Korea": [north_korea], "South Korea": [south_korea],
    "Japan": [honshu, hokkaido, kyushu, shikoku], "Myanmar": [myanmar], "Thailand": [thailand], "Laos": [laos], "Vietnam": [vietnam],
    "Cambodia": [cambodia], "Malaysia": [malaya, sabah_sarawak],
    "Indonesia": [sumatra, java, kalimantan, sulawesi, west_papua, flores, sumbawa, timor, halmahera, seram],
    "Philippines": [luzon, mindanao, palawan, panay_negros, samar_leyte], "Australia": [australia, tasmania],
    "New Zealand": [nz_north, nz_south],
    "Russia": [russia, chukotka, wrangel, wrangel_east, novaya_zemlya, severnaya, bolshevik_is, kotelny_is, new_siberia_is, bolshoy_is, sakhalin, franz_josef],
    "Iceland": [iceland], "Norway": [norway, svalbard, nordaustlandet], "Sweden": [sweden], "Finland": [finland],
    "Denmark": [jutland, sjaelland], "UK": [britain, n_ireland], "Ireland": [ireland], "France": [france, corsica, french_guiana],
    "Spain": [spain], "Portugal": [portugal], "Belgium": [belgium], "Netherlands": [netherlands], "Germany": [germany],
    "Poland": [poland], "Belarus": [belarus], "Lithuania": [lithuania], "Latvia": [latvia], "Estonia": [estonia],
    "Ukraine": [ukraine], "Moldova": [moldova], "Romania": [romania], "Bulgaria": [bulgaria], "Hungary": [hungary],
    "Slovakia": [slovakia], "Czechia": [czechia], "Austria": [austria], "Switzerland": [switzerland], "Italy": [italy, sicily, sardinia],
    "Slovenia": [slovenia], "Croatia": [croatia], "Bosnia": [bosnia], "Serbia": [serbia], "Montenegro": [montenegro],
    "Albania": [albania], "North Macedonia": [macedonia], "Greece": [greece, crete], "Cyprus": [cyprus],
}

title = "Proporción de combustibles fósiles en el consumo de energía — datos comparables recientes"
cbar_ticks = [0, 20, 40, 60, 80, 100]

W, H = 1880, 1034
fig = plt.figure(figsize=(W / 140, H / 140), dpi=140)

# axes rectangle in pixels of the final picture
ax = fig.add_axes([90 / W, (H - 805) / H, 1496 / W, 580 / H])

polys = []
vals = []
for name, parts in country_parts.items():
    for part in parts:
        polys.append(part)
        vals.append(fossil_share[name])

coll = PolyCollection(polys, array=vals, cmap="viridis", edgecolors="white", linewidths=0.1)
coll.set_clim(0, 100)
ax.add_collection(coll)
ax.set_xlim(-180, 180)
ax.set_ylim(-56, 83.6)
ax.set_axis_off()
ax.set_title(title, fontsize=12.85, pad=20.5)

cax = fig.add_axes([1762 / W, (H - 1007) / H, 49 / W, 984 / H])
cbar = fig.colorbar(coll, cax=cax)
cbar.set_ticks(cbar_ticks)

fig.savefig("out.png", dpi=140)
